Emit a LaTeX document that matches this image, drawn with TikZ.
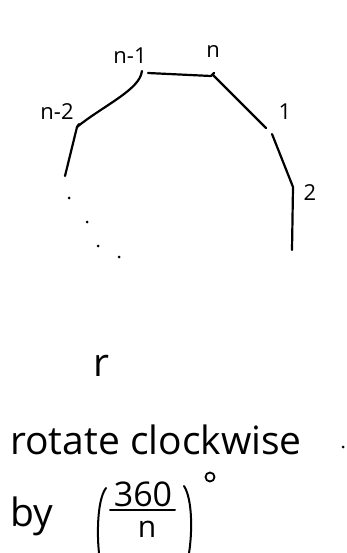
\documentclass[tikz,border=0pt]{standalone}
\usepackage{fontspec}
\setmainfont{Open Sans}
\begin{document}
\begin{tikzpicture}[x=1pt,y=-1pt,
  edge/.style={line width=2.2pt,line cap=round,line join=round},
  lbl/.style={inner sep=0pt,font=\fontsize{22}{26}\selectfont},
  big/.style={inner sep=0pt,font=\fontsize{39}{46}\selectfont}]
\useasboundingbox (0,0) rectangle (347,553);
% vertices
\coordinate (a1) at (65,176);
\coordinate (a2) at (77,127);
\coordinate (a3) at (141,75);
\coordinate (a4) at (148,73);
\coordinate (a5) at (211,76);
\coordinate (a6) at (213,75);
\coordinate (a7) at (266,128);
\coordinate (a8) at (272,134);
\coordinate (a9) at (293,187);
\coordinate (a10) at (292,250);
\draw[edge] (a1) -- (a2) -- (79,124);
\draw[edge] (a2) .. controls (100,108) and (135,92) .. (a3) -- (142,71);
\draw[edge] (a4) -- (a5) -- (214,73);
\draw[edge] (a6) -- (a7);
\draw[edge] (a8) -- (a9) -- (a10);
% dots
\foreach \p/\q in {69/198,87/222,98/246,119/257}
  \fill (\p,\q) circle (1.5);
% labels
\node[lbl] (ln2) at (57,112) {n-2};
\node[lbl] (ln1) at (130,56) {n-1};
\node[lbl] (ln) at (213,52) {n};
\node[lbl] (l1) at (285,112) {1};
\node[lbl] (l2) at (310,193) {2};
\node[big] (r) at (101,366) {r};
\node[big,anchor=west] (rot) at (10,440) {rotate clockwise};
\fill (343,447) circle (1.5);
\node[big,anchor=west] (by) at (10,516) {by};
% fraction (360/n) with degree sign
\node[inner sep=0pt,font=\fontsize{34}{40}\selectfont] (num) at (143,494) {360};
\node[inner sep=0pt,font=\fontsize{30}{36}\selectfont] (den) at (147,529) {n};
\coordinate (barl) at (110,510);
\coordinate (barr) at (175,510);
\draw[line width=2pt,line cap=round] (barl) -- (barr);
\coordinate (lp1) at (106,488);
\coordinate (lp2) at (99,553);
\coordinate (rp1) at (184,486);
\coordinate (rp2) at (189,553);
\draw[line width=2pt,line cap=round] (lp1) .. controls (97,500) and (97,535) .. (lp2);
\draw[line width=2pt,line cap=round] (rp1) .. controls (193,500) and (192,535) .. (rp2);
\coordinate (deg) at (210,477);
\draw[line width=1.8pt] (deg) circle (4.5);
\end{tikzpicture}
\end{document}
